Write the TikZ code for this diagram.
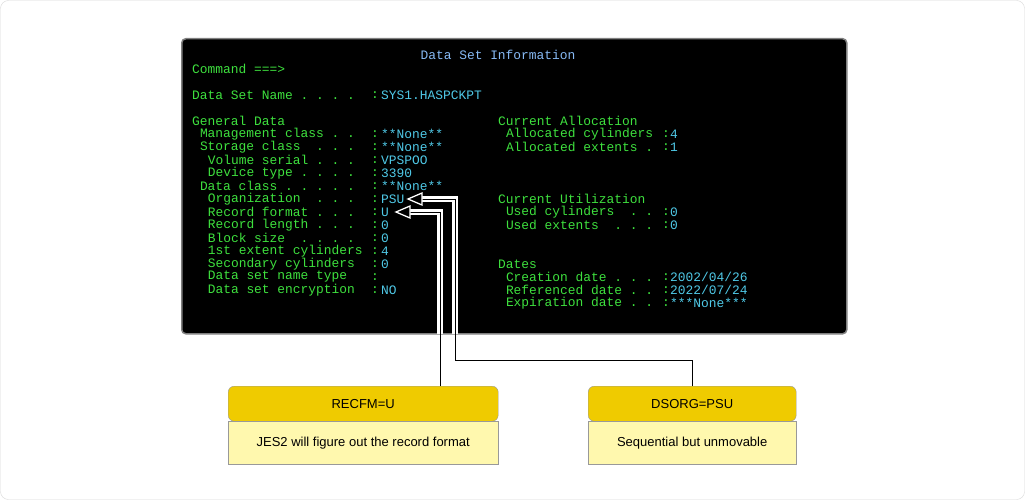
\documentclass[tikz,border=0pt]{standalone}
\usepackage{fontspec}
\setmainfont{Liberation Sans}
\setmonofont{Liberation Mono}
\usetikzlibrary{arrows.meta}
\definecolor{tg}{HTML}{3EE03E}
\definecolor{tc}{HTML}{4FC8E6}
\definecolor{hdr}{HTML}{EFCB00}
\definecolor{bdy}{HTML}{FFF8AE}
\tikzset{
 g/.style={anchor=west,inner sep=0pt,text=tg,font=\ttfamily\fontsize{12.9}{13}\selectfont},
 c/.style={g,text=tc},
 conn/.style={draw=black,line width=0.6pt},
 connin/.style={draw=white,line width=1.6pt,double=white},
 hbox/.style={fill=hdr,draw=black!40,line width=0.4pt},
}
\newcommand\G[3]{\node[g] at (192+#1*7.8,#2) {#3};}
\newcommand\V[2]{\node[g] at (371,#1) {:}; \node[c] at (381,#1) {#2};}
\newcommand\R[3]{\node[g] at (498+#1*7.8,#2) {#3};}
\newcommand\RV[2]{\node[g] at (662,#1) {:}; \node[c] at (670,#1) {#2};}
\begin{document}
\begin{tikzpicture}[x=1pt,y=-1pt]
\useasboundingbox (0,0) rectangle (1025,500);
\draw[draw=black!15,fill=white,rounded corners=8] (0.5,0.5) rectangle (1024.5,499.5);
\node[draw=black!50,fill=black,line width=1.5pt,rounded corners=4,minimum width=665,minimum height=295,inner sep=0,anchor=north west] (term) at (181,38) {};
\node[c,anchor=center,text=tc!70!blue!60!white] (title) at (498,55) {Data Set Information};
\G{0}{69}{Command ===>}
\G{0}{95}{Data Set Name . . . .} \V{95}{SYS1.HASPCKPT}
\G{0}{121}{General Data}
\G{1}{134}{Management class . .} \V{134}{**None**}
\G{1}{147}{Storage class\ \ . . .} \V{147}{**None**}
\G{2}{160}{Volume serial . . .} \V{160}{VPSPOO}
\G{2}{173}{Device type . . . .} \V{173}{3390}
\G{1}{186}{Data class . . . . .} \V{186}{**None**}
\G{2}{199}{Organization\ \ . . .} \V{199}{PSU}
\G{2}{212}{Record format . . .} \V{212}{U}
\G{2}{225}{Record length . . .} \V{225}{0}
\G{2}{238}{Block size\ \ . . . .} \V{238}{0}
\G{2}{251}{1st extent cylinders} \V{251}{4}
\G{2}{264}{Secondary cylinders} \V{264}{0}
\G{2}{277}{Data set name type} \node[g] at (371,277) {:};
\G{2}{290}{Data set encryption} \V{290}{NO}
\R{0}{121}{Current Allocation}
\R{1}{134}{Allocated cylinders} \RV{134}{4}
\R{1}{147}{Allocated extents .} \RV{147}{1}
\R{0}{199}{Current Utilization}
\R{1}{212}{Used cylinders\ \ . .} \RV{212}{0}
\R{1}{225}{Used extents\ \ . . .} \RV{225}{0}
\R{0}{264}{Dates}
\R{1}{277}{Creation date . . .} \RV{277}{2002/04/26}
\R{1}{290}{Referenced date . .} \RV{290}{2022/07/24}
\R{1}{303}{Expiration date . .} \RV{303}{***None***}
% boxes
\node[hbox,minimum width=270,minimum height=35,inner sep=0,anchor=north west,rounded corners=6,font=\fontsize{13}{15}\selectfont] (b1h) at (228,386) {};
\node[fill=bdy,draw=black!40,line width=0.4pt,minimum width=270,minimum height=43,inner sep=0,anchor=north west] (b1) at (228,421) {};
\node at (b1h.center) {\fontsize{13}{15}\selectfont RECFM=U};
\node at (b1.center) {\fontsize{13}{15}\selectfont JES2 will figure out the record format};
\node[hbox,minimum width=208,minimum height=35,inner sep=0,anchor=north west,rounded corners=6] (b2h) at (588,386) {};
\node[fill=bdy,draw=black!40,line width=0.4pt,minimum width=208,minimum height=43,inner sep=0,anchor=north west] (b2) at (588,421) {};
\node at (b2h.center) {\fontsize{13}{15}\selectfont DSORG=PSU};
\node at (b2.center) {\fontsize{13}{15}\selectfont Sequential but unmovable};
\coordinate (a1) at (408,199);
\coordinate (a2) at (396,212);
% connectors
\draw[conn] (b1h.north -| 440,0) -- (440,212) -- (a2);
\draw[conn] (b2h.north -| 692,0) -- (692,360) -- (455,360) -- (455,199) -- (a1);
\begin{scope}
\clip (181,38) rectangle (846,333);
\draw[draw=white,line width=2.6pt,double=black,double distance=0.6pt] (440,400) -- (440,212) -- (410,212);
\draw[draw=white,line width=2.6pt,double=black,double distance=0.6pt] (455,400) -- (455,199) -- (422,199);
\end{scope}
\draw[white,line width=1.3pt,fill=black,line join=miter] (a2) -- ++(14,-6) -- ++(0,12) -- cycle;
\draw[white,line width=1.3pt,fill=black,line join=miter] (a1) -- ++(14,-6) -- ++(0,12) -- cycle;
\end{tikzpicture}
\end{document}
